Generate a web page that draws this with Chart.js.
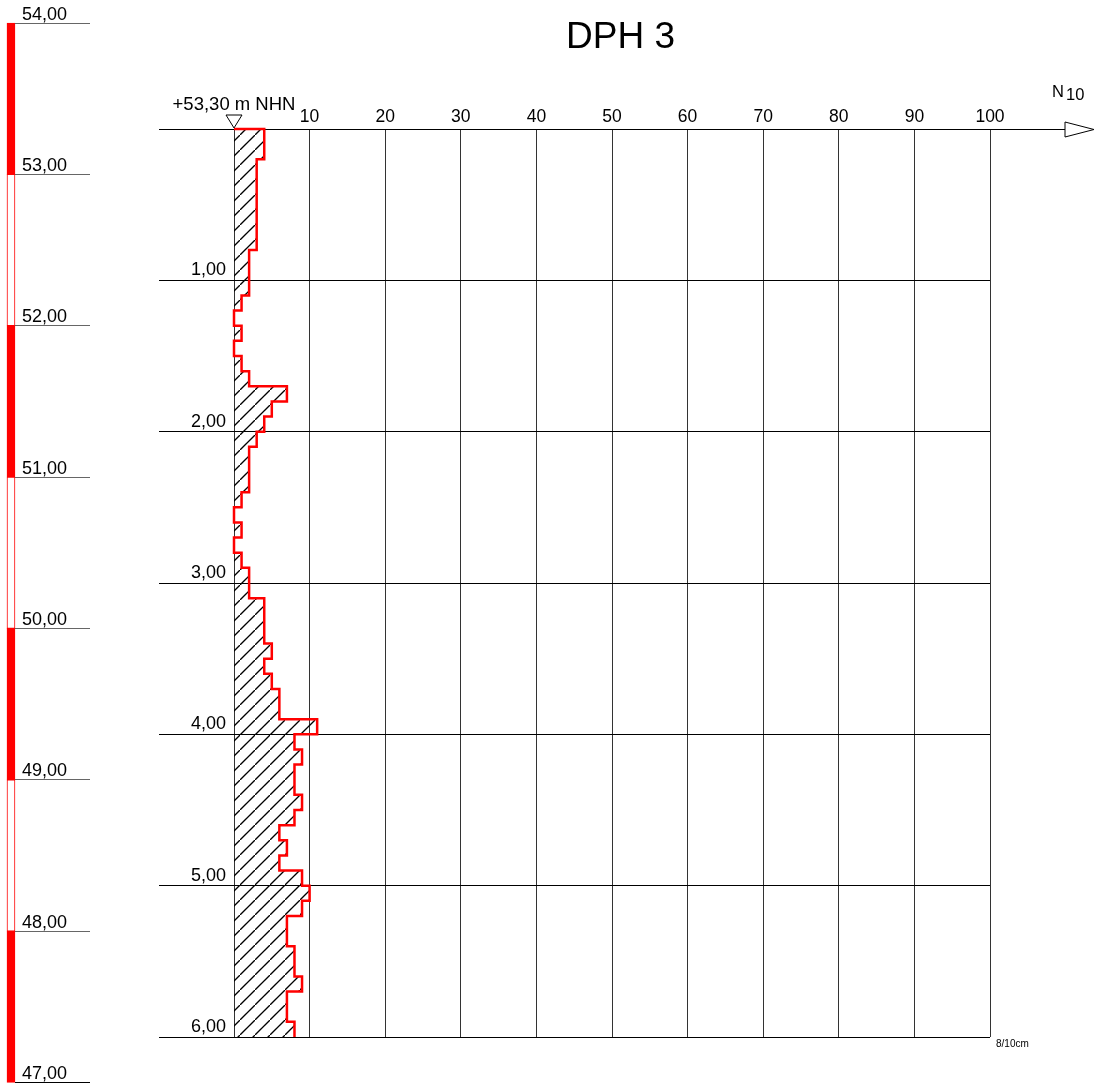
<!DOCTYPE html>
<html>
<head>
<meta charset="utf-8">
<title>DPH 3</title>
<script src="https://cdn.jsdelivr.net/npm/chart.js@4.4.1/dist/chart.umd.min.js"></script>
<style>
  html, body { margin: 0; padding: 0; background: #fff; }
  canvas { display: block; }
</style>
</head>
<body>
<canvas id="chart" width="1094" height="1084"></canvas>
<script>
// Rammsondierung DPH 3 - Schlagzahlen N10 je 10 cm Eindringung
const chartTitle = "DPH 3";
const groundLevel = 53.30;
const groundLabel = "+53,30 m NHN";
const unitNote = "8/10cm";

// Tiefen (m unter GOK), Grenzen der 10-cm-Abschnitte
const depths = [
  0.0, 0.1, 0.2, 0.3, 0.4, 0.5, 0.6, 0.7, 0.8, 0.9,
  1.0, 1.1, 1.2, 1.3, 1.4, 1.5, 1.6, 1.7, 1.8, 1.9,
  2.0, 2.1, 2.2, 2.3, 2.4, 2.5, 2.6, 2.7, 2.8, 2.9,
  3.0, 3.1, 3.2, 3.3, 3.4, 3.5, 3.6, 3.7, 3.8, 3.9,
  4.0, 4.1, 4.2, 4.3, 4.4, 4.5, 4.6, 4.7, 4.8, 4.9,
  5.0, 5.1, 5.2, 5.3, 5.4, 5.5, 5.6, 5.7, 5.8, 5.9,
  6.0
];
// Schlagzahl N10 je Abschnitt
const blows = [
  4, 4, 3, 3, 3, 3, 3, 3, 2, 2,
  2, 1, 0, 1, 0, 1, 2, 7, 5, 4,
  3, 2, 2, 2, 1, 0, 1, 0, 1, 2,
  2, 4, 4, 4, 5, 4, 5, 6, 6, 11,
  8, 9, 8, 8, 9, 8, 6, 7, 6, 9,
  10, 9, 7, 7, 8, 8, 9, 7, 7, 8
];

const n10Ticks = [10, 20, 30, 40, 50, 60, 70, 80, 90, 100];
const n10Labels = ["10", "20", "30", "40", "50", "60", "70", "80", "90", "100"];
const depthTicks = [1, 2, 3, 4, 5, 6];
const depthLabels = ["1,00", "2,00", "3,00", "4,00", "5,00", "6,00"];

// Hoehenmassstab links (m NHN)
const elevations = [54, 53, 52, 51, 50, 49, 48, 47];
const elevLabels = ["54,00", "53,00", "52,00", "51,00", "50,00", "49,00", "48,00", "47,00"];
const bandFilled = [true, false, true, false, true, false, true];

const FONT = "'Liberation Sans', Arial, sans-serif";
const RED = "#ff0000";
const ELEV_COLUMN_X = -29.5; // Lage der Hoehenleiste in N10-Einheiten (links vom Diagramm)

// Treppenlinie aus den Abschnitten
const profile = [{ x: 0, y: depths[0] }];
blows.forEach((n, i) => {
  profile.push({ x: n, y: depths[i] }, { x: n, y: depths[i + 1] });
});

const elevBars = bandFilled.map((f, i) => ({
  x: ELEV_COLUMN_X,
  y: [elevations[i + 1], elevations[i]],
}));

// Schraffurmuster (45 Grad, 15 px Raster)
const hatchTile = (() => {
  const c = document.createElement("canvas");
  c.width = 15;
  c.height = 15;
  const g = c.getContext("2d");
  g.strokeStyle = "#000";
  g.lineWidth = 1.3;
  g.beginPath();
  g.moveTo(-2, 17);
  g.lineTo(17, -2);
  g.stroke();
  return c;
})();

const crisp = (p) => Math.round(p - 0.5) + 0.5;

const decorations = {
  id: "decorations",
  beforeDatasetsDraw(chart) {
    const { ctx, scales } = chart;
    const { x, y } = scales;
    const y0 = crisp(y.getPixelForValue(0));
    const xStart = x.getPixelForValue(0) - 75;
    const xEnd = x.getPixelForValue(100) + 75;

    ctx.save();
    // obere Achse mit Pfeil
    ctx.strokeStyle = "#000";
    ctx.lineWidth = 1;
    ctx.beginPath();
    ctx.moveTo(xStart, y0);
    ctx.lineTo(xEnd, y0);
    ctx.stroke();
    ctx.beginPath();
    ctx.moveTo(xEnd, y0 - 7.5);
    ctx.lineTo(xEnd + 29, y0);
    ctx.lineTo(xEnd, y0 + 7.5);
    ctx.closePath();
    ctx.fillStyle = "#fff";
    ctx.fill();
    ctx.stroke();

    // Schraffur unter der Treppenlinie
    ctx.beginPath();
    ctx.moveTo(x.getPixelForValue(0), y.getPixelForValue(depths[0]));
    profile.forEach((p) => ctx.lineTo(x.getPixelForValue(p.x), y.getPixelForValue(p.y)));
    ctx.lineTo(x.getPixelForValue(0), y.getPixelForValue(depths[depths.length - 1]));
    ctx.closePath();
    ctx.fillStyle = ctx.createPattern(hatchTile, "repeat");
    ctx.fill();
    ctx.restore();
  },
  afterDraw(chart) {
    const { ctx, scales } = chart;
    const { x, y, elev } = scales;
    const y0 = y.getPixelForValue(0);
    const x0 = x.getPixelForValue(0);
    ctx.save();
    ctx.fillStyle = "#000";

    // Titel
    ctx.font = "37px " + FONT;
    ctx.textAlign = "center";
    ctx.textBaseline = "alphabetic";
    ctx.fillText(chartTitle, 620.5, 48);

    // Ansatzpunkt
    ctx.font = "18.5px " + FONT;
    ctx.fillText(groundLabel, x0, y0 - 19);
    ctx.beginPath();
    ctx.moveTo(x0 - 8, y0 - 14);
    ctx.lineTo(x0 + 8, y0 - 14);
    ctx.lineTo(x0, y0 - 1);
    ctx.closePath();
    ctx.fillStyle = "#fff";
    ctx.fill();
    ctx.strokeStyle = "#000";
    ctx.lineWidth = 1;
    ctx.stroke();

    // Achsentitel N10
    ctx.fillStyle = "#000";
    ctx.textAlign = "left";
    ctx.font = "16.5px " + FONT;
    ctx.fillText("N", 1052, 97);
    ctx.fillText("10", 1066, 100);

    // Einheit
    ctx.font = "10px " + FONT;
    ctx.fillText(unitNote, 996, 1047);

    // Hoehenlinien und Beschriftung
    elevations.forEach((e, i) => {
      const py = crisp(elev.getPixelForValue(e));
      ctx.strokeStyle = i === elevations.length - 1 ? "#000" : "#666";
      ctx.beginPath();
      ctx.moveTo(15, py);
      ctx.lineTo(90, py);
      ctx.stroke();
      ctx.fillStyle = "#000";
      ctx.font = "18px " + FONT;
      ctx.fillText(elevLabels[i], 22, py - 3.5);
    });
    ctx.restore();
  },
};

new Chart(document.getElementById("chart"), {
  type: "scatter",
  data: {
    datasets: [
      {
        type: "scatter",
        label: "N10",
        data: profile,
        showLine: true,
        borderColor: RED,
        borderWidth: 2.5,
        borderJoinStyle: "miter",
        pointRadius: 0,
        fill: false,
        clip: false,
      },
      {
        type: "bar",
        label: "Hoehe",
        data: elevBars,
        xAxisID: "x",
        yAxisID: "elev",
        backgroundColor: bandFilled.map((f) => (f ? RED : "#fff")),
        borderColor: RED,
        borderWidth: 1,
        borderSkipped: false,
        barThickness: 8,
        clip: false,
      },
    ],
  },
  options: {
    responsive: false,
    animation: false,
    devicePixelRatio: 1,
    events: [],
    // Achsen haben feste Groessen (afterFit), Rest ueber padding
    layout: { padding: { left: 144, right: 104, top: 89, bottom: 47 } },
    plugins: {
      legend: { display: false },
      tooltip: { enabled: false },
      title: { display: false },
    },
    scales: {
      x: {
        type: "linear",
        position: "top",
        min: 0,
        max: 100,
        offset: false,
        afterFit: (s) => {
          s.height = 40;
        },
        ticks: {
          stepSize: 10,
          autoSkip: false,
          maxRotation: 0,
          padding: 1,
          color: "#000",
          font: { family: FONT, size: 17.5 },
          callback: (v) => {
            const i = n10Ticks.indexOf(v);
            return i < 0 ? "" : n10Labels[i];
          },
        },
        grid: { color: "#333", offset: false, drawTicks: false },
        border: { display: false },
      },
      y: {
        type: "linear",
        position: "left",
        reverse: true,
        min: depths[0],
        max: depths[depths.length - 1],
        afterFit: (s) => {
          s.width = 90;
        },
        ticks: {
          stepSize: 1,
          autoSkip: false,
          padding: -67,
          labelOffset: -10,
          color: "#000",
          font: { family: FONT, size: 18 },
          callback: (v) => {
            const i = depthTicks.indexOf(v);
            return i < 0 ? "" : depthLabels[i];
          },
        },
        grid: { color: "#000", drawTicks: true, tickLength: 75, tickColor: "#000" },
        border: { display: false },
      },
      elev: {
        type: "linear",
        display: false,
        beginAtZero: false,
        min: groundLevel - depths[depths.length - 1],
        max: groundLevel,
      },
    },
  },
  plugins: [decorations],
});
</script>
</body>
</html>
